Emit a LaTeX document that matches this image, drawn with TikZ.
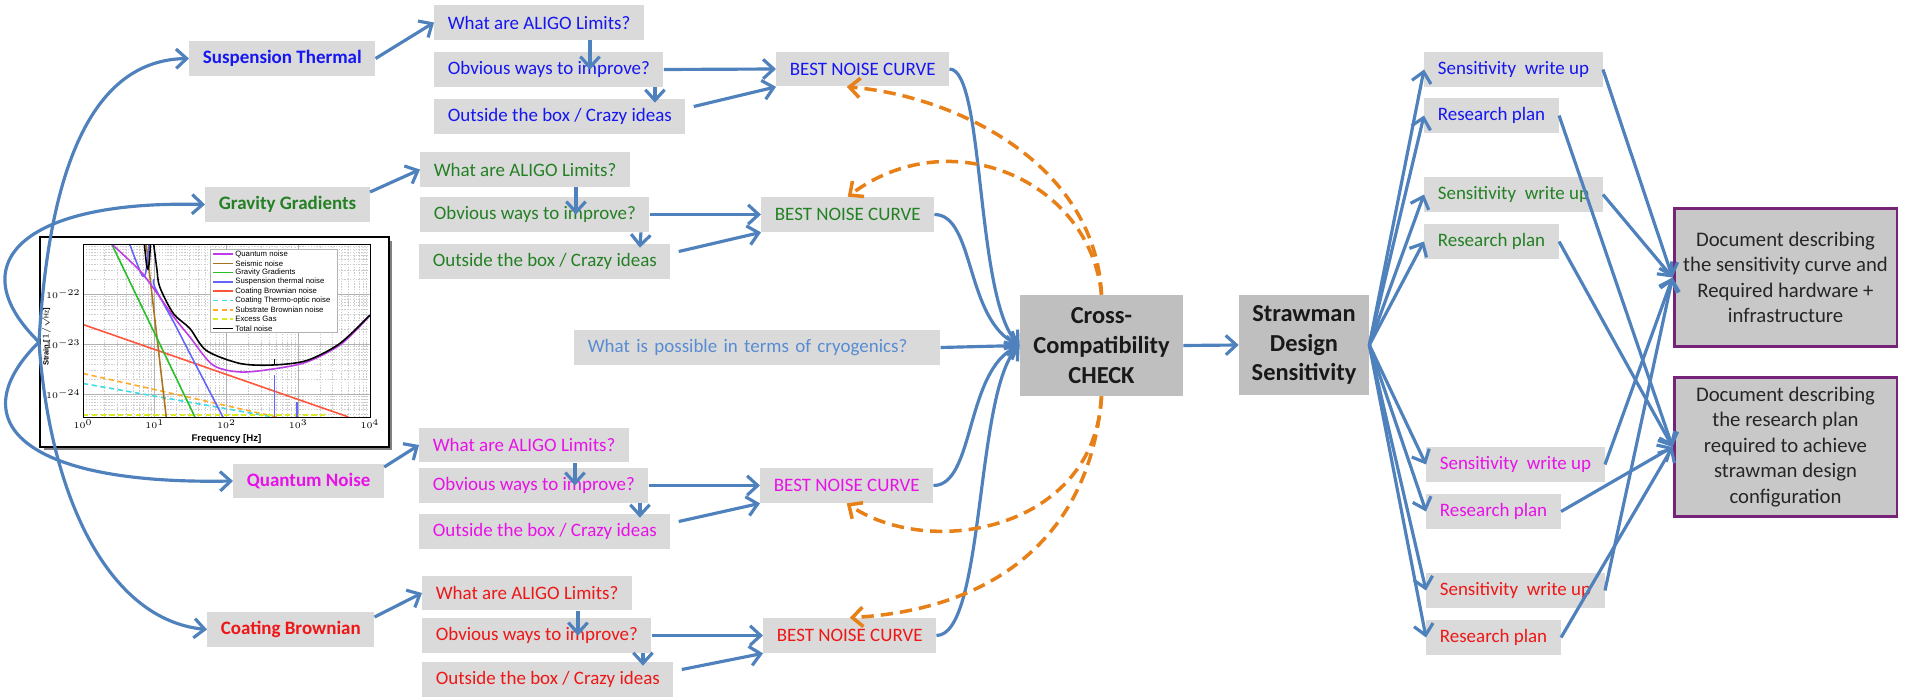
\documentclass[tikz,border=0pt]{standalone}
\usepackage{fontspec}
\setmainfont{Carlito}
\newfontfamily\plotfont{Liberation Sans}
\usetikzlibrary{arrows.meta,shadows}

\definecolor{linkblue}{RGB}{79,129,189}
\definecolor{fborange}{RGB}{232,128,24}
\definecolor{boxgray}{RGB}{218,218,218}
\definecolor{hubgray}{RGB}{191,191,191}
\definecolor{docgray}{RGB}{200,200,200}
\definecolor{docpurple}{RGB}{118,36,120}
\definecolor{suspcol}{RGB}{22,22,240}
\definecolor{gravcol}{RGB}{36,128,36}
\definecolor{quantcol}{RGB}{232,18,232}
\definecolor{coatcol}{RGB}{238,22,22}
\definecolor{cryocol}{RGB}{88,140,210}
% colours of the noise curves
\definecolor{qncurve}{RGB}{190,60,230}
\definecolor{seiscurve}{RGB}{170,115,30}
\definecolor{ggcurve}{RGB}{40,190,40}
\definecolor{stcurve}{RGB}{100,100,255}
\definecolor{cbcurve}{RGB}{255,85,60}
\definecolor{tocurve}{RGB}{60,220,230}
\definecolor{sbcurve}{RGB}{255,170,40}
\definecolor{gascurve}{RGB}{220,235,30}

\begin{document}
\begin{tikzpicture}[x=0.02cm, y=-0.02cm,
  every node/.style={font=\fontsize{10.8}{13}\selectfont},
  box/.style={fill=boxgray, anchor=west, minimum height=0.7cm, inner xsep=0.27cm, inner ysep=0pt},
  topic/.style={box, font=\fontsize{10.8}{13}\selectfont\bfseries},
  hub/.style={fill=hubgray, text=black!90, align=center, inner sep=0pt, font=\fontsize{13.9}{17}\selectfont\bfseries},
  doc/.style={draw=docpurple, line width=1.7pt, fill=docgray, text=black!85, align=center, minimum width=4.46cm, minimum height=2.78cm, inner sep=0pt, font=\fontsize{11.8}{14.5}\selectfont},
  link/.style={draw=linkblue, line width=1.8pt, -{Straight Barb[length=6pt,width=11pt]}},
  fb/.style={draw=fborange, line width=2pt, dash pattern=on 7pt off 4pt, -{Straight Barb[length=6pt,width=11pt]}},
  minor/.style={gray!40, line width=0.2pt, dash pattern=on 0.8pt off 0.8pt},
  major/.style={gray!60, line width=0.3pt},
  tick/.style={font=\plotfont\bfseries\fontsize{4.3}{5}\selectfont, inner sep=1.2pt},
  legend/.style={font=\plotfont\fontsize{4.4}{5}\selectfont, inner sep=1pt, text=black}]

  \fill[white] (0,0) rectangle (1911,699);
  \useasboundingbox (0,0) rectangle (1911,699);

  % Noise budget figure on the left
  \node[draw, line width=1.2pt, fill=white, minimum width=6.98cm, minimum height=4.2cm,
    drop shadow={shadow xshift=0.07cm, shadow yshift=-0.07cm, fill=black!70, opacity=0.7}] (graph) at (214.5,342) {};

  \begin{scope}[shift={(83,294)}, x=1.435cm, y=1cm]
    \begin{scope}
      \clip (0,-2.46) rectangle (4,1);
      \foreach \d in {0,...,3}
        \foreach \k in {0.301,0.477,0.602,0.699,0.778,0.845,0.903,0.954}
          \draw[minor] (\d+\k,-2.46) -- ++(0,3.46);
      \foreach \d in {-3,...,0}
        \foreach \k in {0.301,0.477,0.602,0.699,0.778,0.845,0.903,0.954}
          \draw[minor] (0,\d+\k) -- ++(4,0);
      \foreach \d in {1,2,3} \draw[major] (\d,-2.46) -- ++(0,3.46);
      \foreach \d in {-2,-1,0} \draw[major] (0,\d) -- ++(4,0);

      % Noise curves
      \draw[cbcurve, line width=0.9pt] (0,-0.61) -- (3.7,-2.46);
      \draw[sbcurve, line width=0.9pt, densely dashed] (0,-1.59) -- (2.7,-2.46);
      \draw[tocurve, line width=0.9pt, densely dashed] (0,-1.79) -- (2.65,-2.46);
      \draw[gascurve, line width=0.9pt, densely dashed] (0,-2.42) -- (3.4,-2.42);
      \draw[seiscurve, line width=0.9pt] (0.88,1) -- (1.16,-2.46);
      \draw[ggcurve, line width=0.9pt] (0.40,1) -- (1.56,-2.46);
      \draw[stcurve, line width=0.9pt] plot[smooth] coordinates {(0.65,1) (0.75,0.62) (0.83,0.36) (0.87,0.4) (0.9,0.7) (0.92,1)};
      \draw[stcurve, line width=0.9pt] plot[smooth] coordinates {(0.99,0.3) (1.0,0.14) (1.26,-0.55) (1.49,-1.19) (1.95,-2.46)};
      \draw[stcurve, line width=0.9pt] (2.67,-2.46) -- (2.67,-1.63) (2.98,-2.46) -- (2.98,-2.16);
      \draw[qncurve, line width=0.9pt] plot[smooth] coordinates {(0.40,1) (0.79,0.47) (1.02,0.04) (1.26,-0.45) (1.49,-0.86) (1.81,-1.42) (2.19,-1.56) (2.65,-1.50) (3.12,-1.36) (3.6,-1.0) (4.0,-0.43)};
      \draw[black, line width=0.9pt] plot[smooth] coordinates {(0.855,1) (0.885,0.6) (0.905,0.5) (0.925,0.65) (0.94,1)};
      \draw[black, line width=0.9pt] plot[smooth] coordinates {(0.985,1) (1.03,0.5) (1.07,0.14) (1.26,-0.39) (1.49,-0.69) (1.72,-1.13) (2.19,-1.39) (2.65,-1.42) (3.12,-1.33) (3.58,-0.99) (4.0,-0.42)};
      \draw[black, line width=0.9pt] (2.67,-1.42) -- (2.67,-1.3);
    \end{scope}
    \draw[line width=0.4pt] (0,-2.46) rectangle (4,1);

    % Axis labels
    \foreach \d in {0,...,4}
      \node[tick, below] (fx\d) at (\d,-2.46) {$10^{\d}$};
    \foreach \d/\e in {0/22,-1/23,-2/24}
      \node[tick, left] (hy\e) at (0,\d) {$10^{-\e}$};
    \node[tick, font=\plotfont\bfseries\fontsize{5.5}{6}\selectfont] (xlab) at (2,-2.9) {Frequency [Hz]};
    \node[tick, rotate=90] (ylab) at (-0.52,-0.86) {Strain [$1/\sqrt{\mathrm{Hz}}$]};

    % Legend
    \draw[fill=white, draw=gray!60, line width=0.3pt] (1.77,0.9) rectangle (3.54,-0.76);
    \foreach \c/\s/\t [count=\i from 0] in {
      qncurve/solid/Quantum noise,
      seiscurve/solid/Seismic noise,
      ggcurve/solid/Gravity Gradients,
      stcurve/solid/Suspension thermal noise,
      cbcurve/solid/Coating Brownian noise,
      tocurve/densely dashed/Coating Thermo-optic noise,
      sbcurve/densely dashed/Substrate Brownian noise,
      gascurve/densely dashed/Excess Gas,
      black/solid/Total noise}
      \draw[\c, \s, line width=0.8pt] (1.81,{0.8-0.186*\i}) -- ++(0.28,0) node[legend, right] {\t};
  \end{scope}

  % Noise sources
  \node[topic, text=suspcol] (susp) at (189,58.5) {Suspension Thermal};
  \node[topic, text=gravcol] (grav) at (205,204.5) {Gravity Gradients};
  \node[topic, text=quantcol] (qnoise) at (233,481) {Quantum Noise};
  \node[topic, text=coatcol] (coat) at (207,629.5) {Coating Brownian};

  \draw[link] (graph.west) .. controls (50,150) and (100,60) .. (susp.west);
  \draw[link] (graph.west) .. controls (-40,265) and (20,200) .. (grav.west);
  \draw[link] (graph.west) .. controls (-40,420) and (20,485) .. (qnoise.west);
  \draw[link] (graph.west) .. controls (50,500) and (110,620) .. (coat.west);

  % Suspension thermal questions
  \node[box, text=suspcol] (sLim) at (434,22.5) {What are ALIGO Limits?};
  \node[box, text=suspcol] (sObv) at (434,69.5) {Obvious ways to improve?};
  \node[box, text=suspcol] (sOut) at (434,116.5) {Outside the box / Crazy ideas};
  \node[box, text=suspcol] (sBest) at (776,69) {BEST NOISE CURVE};

  % Gravity gradient questions
  \node[box, text=gravcol] (gLim) at (420,169.5) {What are ALIGO Limits?};
  \node[box, text=gravcol] (gObv) at (420,214.5) {Obvious ways to improve?};
  \node[box, text=gravcol] (gOut) at (419,261.5) {Outside the box / Crazy ideas};
  \node[box, text=gravcol] (gBest) at (761,214.5) {BEST NOISE CURVE};

  % Quantum noise questions
  \node[box, text=quantcol] (qLim) at (419,445) {What are ALIGO Limits?};
  \node[box, text=quantcol] (qObv) at (419,485.5) {Obvious ways to improve?};
  \node[box, text=quantcol] (qOut) at (419,531.5) {Outside the box / Crazy ideas};
  \node[box, text=quantcol] (qBest) at (760,485.5) {BEST NOISE CURVE};

  % Coating Brownian questions
  \node[box, text=coatcol] (cLim) at (422,593) {What are ALIGO Limits?};
  \node[box, text=coatcol] (cObv) at (422,635.5) {Obvious ways to improve?};
  \node[box, text=coatcol] (cOut) at (422,679.5) {Outside the box / Crazy ideas};
  \node[box, text=coatcol] (cBest) at (763,635.5) {BEST NOISE CURVE};

  \node[box, text=cryocol, text width=6.78cm, align=left] (cryo) at (574,347.5) {What is possible in terms of cryogenics?};

  % Central check and strawman
  \node[hub, minimum width=3.26cm, minimum height=2.02cm] (cross) at (1101.5,345.5) {Cross-\\Compatibility\\CHECK};
  \node[hub, minimum width=2.6cm, minimum height=2cm] (straw) at (1304,345) {Strawman\\Design\\Sensitivity};

  % Arrows inside each group
  \draw[link] (susp.east) -- (sLim.west);
  \draw[link] ([xshift=3.12cm]sLim.south west) -- ([xshift=3.12cm]sObv.west);
  \draw[link] ([xshift=4.42cm]sObv.south west) -- ([xshift=4.42cm,yshift=-0.08cm]sOut.north west);
  \draw[link] (sObv.east) -- (sBest.west);
  \draw[link] ([xshift=0.16cm,yshift=0.2cm]sOut.east) -- (sBest.south west);

  \draw[link] ([yshift=0.25cm]grav.east) -- (gLim.west);
  \draw[link] ([xshift=3.12cm]gLim.south west) -- ([xshift=3.12cm]gObv.west);
  \draw[link] ([xshift=4.42cm]gObv.south west) -- ([xshift=4.42cm,yshift=-0.08cm]gOut.north west);
  \draw[link] (gObv.east) -- (gBest.west);
  \draw[link] ([xshift=0.16cm,yshift=0.2cm]gOut.east) -- (gBest.south west);

  \draw[link] ([yshift=0.28cm]qnoise.east) -- (qLim.west);
  \draw[link] ([xshift=3.12cm]qLim.south west) -- ([xshift=3.12cm]qObv.west);
  \draw[link] ([xshift=4.42cm]qObv.south west) -- ([xshift=4.42cm,yshift=-0.08cm]qOut.north west);
  \draw[link] (qObv.east) -- (qBest.west);
  \draw[link] ([xshift=0.16cm,yshift=0.2cm]qOut.east) -- (qBest.south west);

  \draw[link] ([yshift=0.25cm]coat.east) -- (cLim.west);
  \draw[link] ([xshift=3.12cm]cLim.south west) -- ([xshift=3.12cm]cObv.west);
  \draw[link] ([xshift=4.42cm]cObv.south west) -- ([xshift=4.42cm,yshift=-0.08cm]cOut.north west);
  \draw[link] (cObv.east) -- (cBest.west);
  \draw[link] ([xshift=0.16cm,yshift=0.2cm]cOut.east) -- (cBest.south west);

  % Best curves into the check
  \draw[link] (sBest.east) .. controls (985,69) and (975,300) .. (cross.west);
  \draw[link] (gBest.east) .. controls (975,214.5) and (965,320) .. (cross.west);
  \draw[link] (qBest.east) .. controls (975,485.5) and (965,370) .. (cross.west);
  \draw[link] (cBest.east) .. controls (985,635.5) and (975,390) .. (cross.west);
  \draw[link] (cryo.east) -- (cross.west);
  \draw[link] (cross.east) -- (straw.west);

  % Feedback from the check
  \draw[fb] (cross.north) .. controls (1095,160) and (950,95) .. ([xshift=-0.32cm]sBest.south);
  \draw[fb] (cross.north) .. controls (1090,180) and (950,120) .. (gBest.north);
  \draw[fb] (cross.south) .. controls (1095,530) and (930,560) .. (qBest.south);
  \draw[fb] (cross.south) .. controls (1090,540) and (990,610) .. (cBest.north);

  % Write ups and plans
  \node[box, text=suspcol] (sSens) at (1424,69.5) {Sensitivity\ \ write up};
  \node[box, text=suspcol] (sPlan) at (1424,115.5) {Research plan};
  \node[box, text=gravcol] (gSens) at (1424,194.5) {Sensitivity\ \ write up};
  \node[box, text=gravcol] (gPlan) at (1424,241.5) {Research plan};
  \node[box, text=quantcol] (qSens) at (1426,464.5) {Sensitivity\ \ write up};
  \node[box, text=quantcol] (qPlan) at (1426,511.5) {Research plan};
  \node[box, text=coatcol] (cSens) at (1426,590.5) {Sensitivity\ \ write up};
  \node[box, text=coatcol] (cPlan) at (1426,637.5) {Research plan};

  \node[doc] (docA) at (1785.5,277.5) {Document describing\\the sensitivity curve and\\Required hardware +\\infrastructure};
  \node[doc] (docB) at (1785.5,447) {Document describing\\the research plan\\required to achieve\\strawman design\\configuration};

  \draw[link] (straw.east) -- (sSens.west);
  \draw[link] (straw.east) -- (sPlan.west);
  \draw[link] (straw.east) -- (gSens.west);
  \draw[link] (straw.east) -- (gPlan.west);
  \draw[link] (straw.east) -- (qSens.west);
  \draw[link] (straw.east) -- (qPlan.west);
  \draw[link] (straw.east) -- (cSens.west);
  \draw[link] (straw.east) -- (cPlan.west);

  \draw[link] (sSens.east) -- (docA.west);
  \draw[link] (gSens.east) -- (docA.west);
  \draw[link] (qSens.east) -- (docA.west);
  \draw[link] (cSens.east) -- (docA.west);
  \draw[link] (sPlan.east) -- (docB.west);
  \draw[link] (gPlan.east) -- (docB.west);
  \draw[link] (qPlan.east) -- (docB.west);
  \draw[link] (cPlan.east) -- (docB.west);

\end{tikzpicture}
\end{document}
